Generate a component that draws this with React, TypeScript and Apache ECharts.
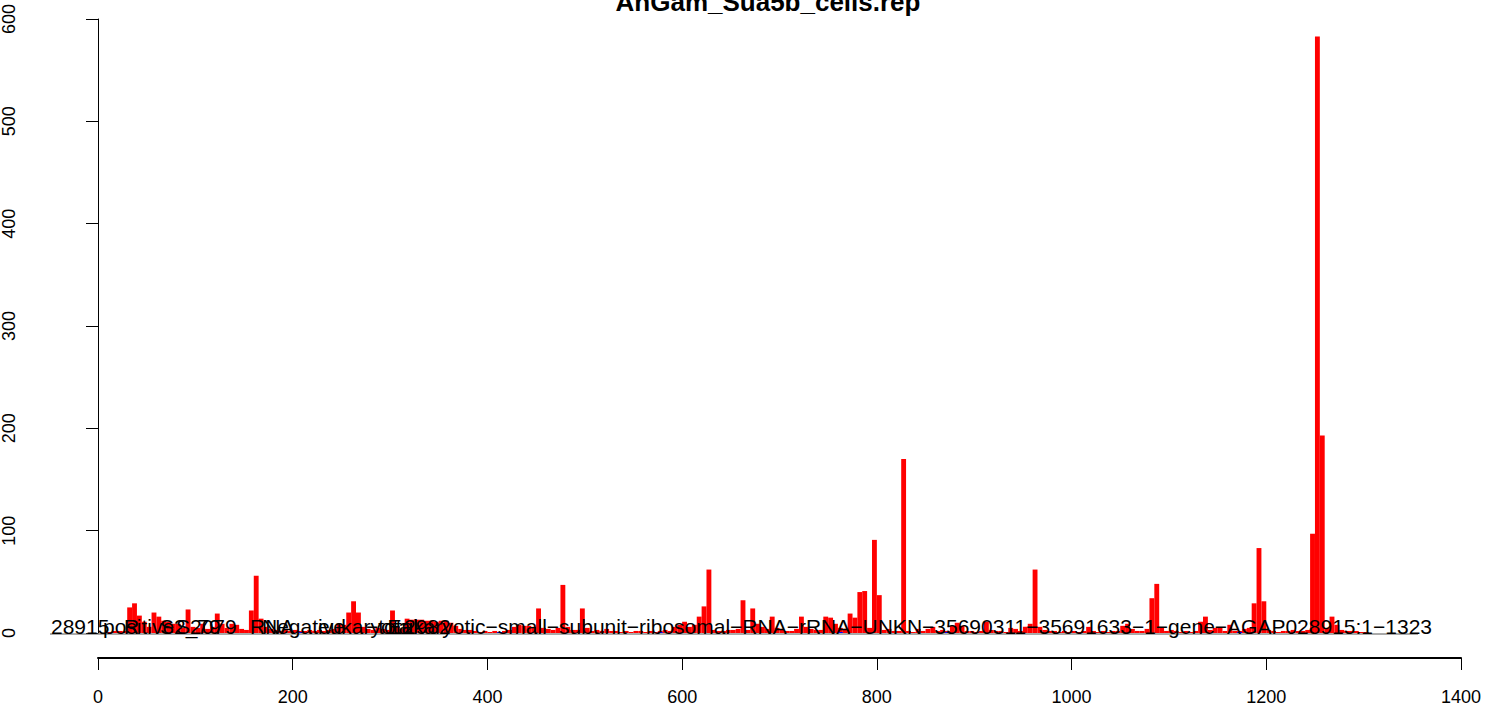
import React, { useEffect, useRef } from "react";
import * as echarts from "echarts";

const chartTitle = "AnGam_Sua5b_cells.rep";
const xTicks = [0, 200, 400, 600, 800, 1000, 1200, 1400];
const yTicks = [0, 100, 200, 300, 400, 500, 600];
const firstBinStart = 10;
const binWidth = 5;
// read counts per 5-position bin, starting at position 10
const readCounts = [
  1, 2, 2, 2,
  25, 29, 17, 11, 6, 20, 16, 12, 11, 9,
  9, 5, 23, 6, 5, 9, 4, 6, 19, 9,
  5, 9, 8, 4, 3, 22, 56, 14, 6, 4,
  3, 2, 3, 2, 3, 2, 2, 3, 2, 3,
  2, 3, 4, 9, 8, 20, 31, 20, 6, 4,
  3, 5, 4, 3, 22, 6, 4, 14, 13, 13,
  13, 12, 12, 11, 12, 12, 10, 7, 4, 3,
  3, 2, 1, 2, 1, 2, 1, 2, 3, 6,
  8, 7, 7, 6, 24, 5, 4, 3, 5, 47,
  6, 3, 3, 24, 5, 2, 3, 2, 4, 2,
  2, 1, 2, 1, 2, 2, 1, 2, 1, 2,
  3, 2, 6, 8, 11, 6, 8, 16, 26, 62,
  3, 2, 2, 3, 3, 4, 32, 3, 24, 9,
  6, 4, 16, 5, 3, 2, 2, 4, 16, 6,
  4, 3, 3, 16, 15, 9, 5, 4, 19, 15,
  40, 41, 5, 91, 37, 3, 4, 2, 2, 170,
  2, 1, 4, 2, 4, 6, 2, 3, 2, 7,
  10, 7, 2, 2, 1, 2, 11, 3, 2, 2,
  1, 5, 4, 2, 6, 9, 62, 6, 3, 2,
  2, 1, 2, 1, 2, 1, 2, 6, 2, 1,
  2, 1, 2, 2, 7, 9, 4, 2, 2, 4,
  34, 48, 5, 2, 3, 2, 1, 2, 1, 2,
  11, 16, 3, 5, 5, 2, 8, 2, 2, 4,
  5, 29, 83, 31, 3, 2, 1, 2, 2, 3,
  2, 2, 3, 97, 583, 193, 5, 16, 8, 3,
  2, 2, 2, 1, 1,
];
// second (blue) series: bin starts and counts
const blueBinStarts = [205, 410, 575, 760, 870, 1170];
const blueCounts = [1, 1, 1, 1, 1, 1];
// overlapping reference labels printed along the baseline
const refLabels = [
  "28915",
  "positive",
  "R",
  "S2_79",
  "S2079",
  "RNA",
  "Negative",
  "eukaryota",
  "−total",
  "2982",
];
const longLabel =
  "Eukaryotic−small−subunit−ribosomal−RNA−rRNA−UNKN−35690311−35691633−1−gene−AGAP028915:1−1323";

const FONT = "'Liberation Sans', Arial, Helvetica, sans-serif";

export default function App() {
  const ref = useRef<HTMLDivElement>(null);
  useEffect(() => {
    document.body.style.margin = "0";
    if (!ref.current) return;
    const chart = echarts.init(ref.current, undefined, { renderer: "svg" });
    const redData = readCounts.map((v, i) => [firstBinStart + i * binWidth, v]);
    const blueData = blueBinStarts.map((s, i) => [s, blueCounts[i]]);
    const renderBin = (color: string) => (params: any, api: any) => {
      const x = api.value(0);
      const y = api.value(1);
      const p0 = api.coord([x, y]);
      const p1 = api.coord([x + binWidth, 0]);
      return {
        type: "rect",
        shape: { x: p0[0], y: p0[1], width: p1[0] - p0[0], height: p1[1] - p0[1] },
        style: { fill: color },
      };
    };
    const labelX = [51, 103, 124, 160, 176, 250, 262, 318, 366, 404];
    const labelBase = 634;
    const labelFs = 21;
    const graphics: any[] = [
      {
        type: "line",
        shape: { x1: 50, y1: 634, x2: 1418, y2: 634 },
        style: { stroke: "#555", lineWidth: 1 },
        z: 1,
      },
      {
        type: "text",
        x: 768,
        y: 11 - 0.35 * 26,
        style: {
          text: chartTitle,
          font: `bold 26px ${FONT}`,
          fill: "#000",
          align: "center",
          verticalAlign: "middle",
        },
      },
      ...refLabels.map((t, i) => ({
        type: "text",
        x: labelX[i],
        y: labelBase - 0.35 * labelFs,
        z: 10,
        style: {
          text: t,
          font: `${labelFs}px ${FONT}`,
          fill: "#000",
          align: "left",
          verticalAlign: "middle",
        },
      })),
      {
        type: "text",
        x: 1432,
        y: labelBase - 0.35 * labelFs,
        z: 10,
        style: {
          text: longLabel,
          font: `${labelFs}px ${FONT}`,
          fill: "#000",
          align: "right",
          verticalAlign: "middle",
        },
      },
    ];
    chart.setOption({
      animation: false,
      backgroundColor: "#fff",
      grid: { left: 98, right: 40, top: 19, bottom: 76 },
      xAxis: {
        type: "value",
        min: xTicks[0],
        max: xTicks[xTicks.length - 1],
        interval: 200,
        offset: 25,
        axisLine: { show: true, onZero: false, lineStyle: { color: "#000", width: 2 } },
        axisTick: { show: true, length: 12, lineStyle: { color: "#000", width: 1 } },
        axisLabel: {
          fontSize: 18,
          fontFamily: FONT,
          color: "#000",
          margin: 30,
          formatter: (v: number) => String(v),
        },
        splitLine: { show: false },
      },
      yAxis: {
        type: "value",
        min: yTicks[0],
        max: yTicks[yTicks.length - 1],
        interval: 100,
        offset: 48,
        axisLine: { show: true, lineStyle: { color: "#000", width: 1 } },
        axisTick: { show: true, length: 12, lineStyle: { color: "#000", width: 1 } },
        axisLabel: {
          fontSize: 18,
          fontFamily: FONT,
          color: "#000",
          rotate: 90,
          margin: 32,
          formatter: (v: number) => String(v),
        },
        splitLine: { show: false },
      },
      series: [
        {
          type: "custom",
          renderItem: renderBin("#ff0000"),
          encode: { x: 0, y: 1 },
          data: redData,
          z: 2,
        },
        {
          type: "custom",
          renderItem: renderBin("#0000ff"),
          encode: { x: 0, y: 1 },
          data: blueData,
          z: 3,
        },
      ],
      graphic: graphics,
    });
    return () => chart.dispose();
  }, []);
  return <div ref={ref} style={{ width: 1501, height: 709 }} />;
}
